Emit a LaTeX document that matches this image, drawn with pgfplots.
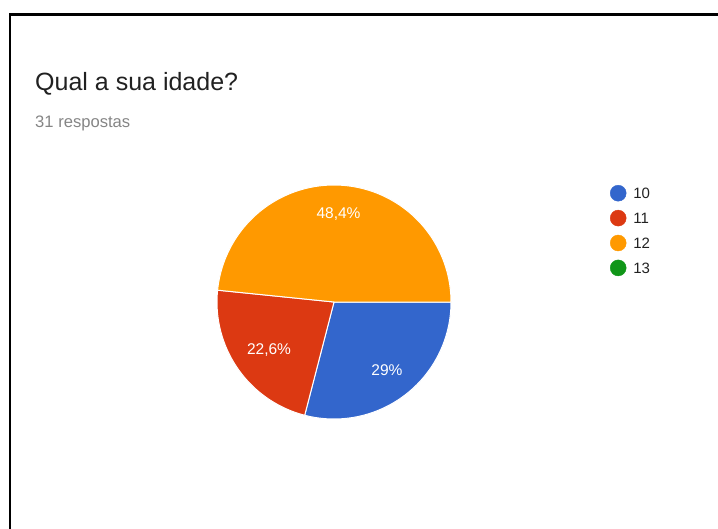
\documentclass[border=0pt]{standalone}
\usepackage{pgfplots}
\pgfplotsset{compat=1.18}
\usepackage{fontspec}
\setmainfont{Liberation Sans}
\definecolor{c10}{HTML}{3366CC}
\definecolor{c11}{HTML}{DC3912}
\definecolor{c12}{HTML}{FF9900}
\definecolor{c13}{HTML}{109618}
\definecolor{titlec}{HTML}{212121}
\definecolor{subc}{HTML}{858585}
% percentages of the slices
\def\pA{29.03}\def\pB{22.58}\def\pC{48.39}
\begin{document}
\begin{tikzpicture}
\useasboundingbox (0,0) rectangle (718bp,529bp);
\begin{axis}[
  at={(0,0)}, anchor=south west,
  scale only axis, width=718bp, height=529bp,
  xmin=0, xmax=718, ymin=0, ymax=529, y dir=reverse,
  hide axis, clip=false,
  legend style={at={(610/718,1-185/529)}, anchor=north west, draw=none, fill=none,
    inner sep=0pt, outer sep=0pt, column sep=7bp, row sep=8.5bp,
    font=\fontsize{15bp}{18bp}\selectfont,
    nodes={inner sep=0pt, text height=11bp, text depth=0bp, text=titlec}},
  legend cell align=left,
  legend image code/.code={\fill[#1] (8bp,0bp) circle (8bp);},
]
% slices (angles from the percentages, start at 3 o'clock, clockwise)
\addplot[forget plot, draw=white, line width=1bp, fill=c10, domain={-\pA*3.6}:0, samples=90]
  ({334+117*cos(x)}, {302-117*sin(x)}) -- (axis cs:334,302) -- cycle;
\addplot[forget plot, draw=white, line width=1bp, fill=c11, domain={-(\pA+\pB)*3.6}:{-\pA*3.6}, samples=90]
  ({334+117*cos(x)}, {302-117*sin(x)}) -- (axis cs:334,302) -- cycle;
\addplot[forget plot, draw=white, line width=1bp, fill=c12, domain=-360:{-(\pA+\pB)*3.6}, samples=150]
  ({334+117*cos(x)}, {302-117*sin(x)}) -- (axis cs:334,302) -- cycle;
\addlegendimage{c10}\addlegendentry{10}
\addlegendimage{c11}\addlegendentry{11}
\addlegendimage{c12}\addlegendentry{12}
\addlegendimage{c13}\addlegendentry{13}
\node[anchor=base, text=white, font=\fontsize{15.5bp}{18bp}\selectfont] at (axis cs:338.5,218) {48,4\%};
\node[anchor=base, text=white, font=\fontsize{15.5bp}{18bp}\selectfont] at (axis cs:269,354) {22,6\%};
\node[anchor=base, text=white, font=\fontsize{15.5bp}{18bp}\selectfont] at (axis cs:387,375.5) {29\%};
\node[anchor=base west, inner sep=0pt, text=titlec, font=\fontsize{25bp}{30bp}\selectfont] at (axis cs:35,91) {Qual a sua idade?};
\node[anchor=base west, inner sep=0pt, text=subc, font=\fontsize{16.6bp}{19bp}\selectfont] at (axis cs:35,127) {31 respostas};
\draw[black, line width=2.5bp] (axis cs:10,540) -- (axis cs:10,14.3) -- (axis cs:730,14.3);
\end{axis}
\end{tikzpicture}
\end{document}
